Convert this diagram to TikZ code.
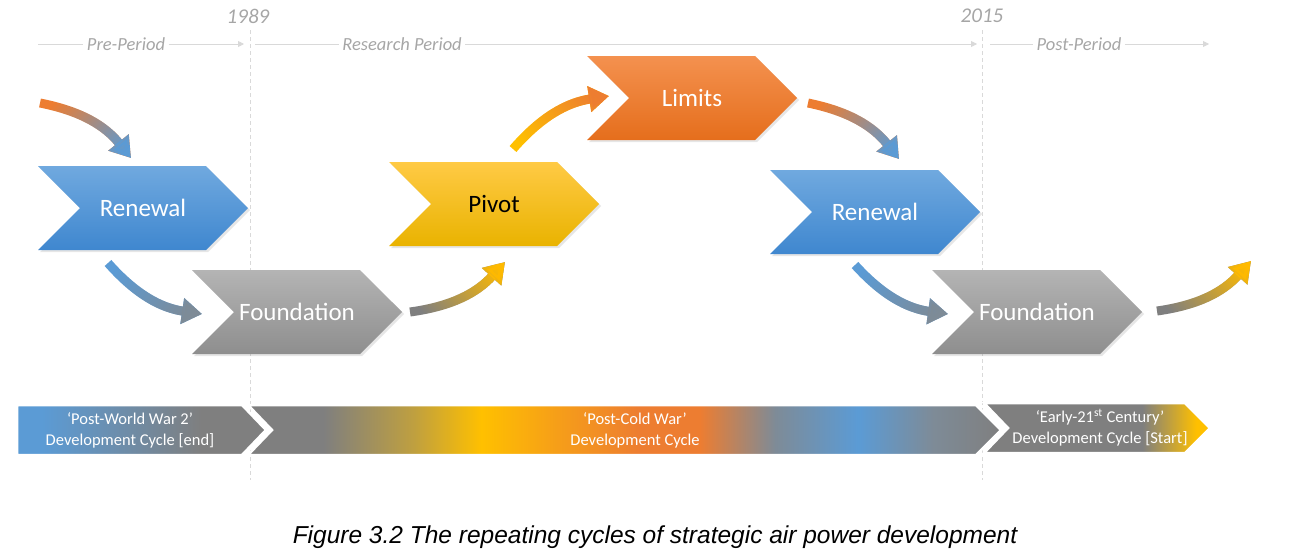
\documentclass[tikz,border=0pt]{standalone}
\usepackage{fontspec}
\setmainfont{Carlito}
\newfontfamily\captionfont{Liberation Sans}
\usetikzlibrary{shapes.symbols,arrows.meta,fadings,shadows}

\definecolor{rnblue}{HTML}{5B9BD5}
\definecolor{rnbluetop}{HTML}{70A9DF}
\definecolor{rnbluebot}{HTML}{3F87CF}
\definecolor{fdgraytop}{HTML}{B4B4B4}
\definecolor{fdgraybot}{HTML}{8E8E8E}
\definecolor{pvyeltop}{HTML}{FFCA45}
\definecolor{pvyelbot}{HTML}{E9B300}
\definecolor{lmorgtop}{HTML}{F4914F}
\definecolor{lmorgbot}{HTML}{E56E1C}
\definecolor{cygray}{HTML}{7F7F7F}
\definecolor{cyyellow}{HTML}{FFC000}
\definecolor{cyorange}{HTML}{ED7D31}
\definecolor{cyslate}{HTML}{7E8B97}
\definecolor{periodgray}{HTML}{A6A6A6}
\definecolor{periodline}{HTML}{D9D9D9}

\pgfdeclarehorizontalshading{oldcycle}{100bp}{color(0bp)=(rnblue); color(30bp)=(rnblue); color(62bp)=(cygray); color(100bp)=(cygray)}
\pgfdeclarehorizontalshading{coldcycle}{100bp}{color(0bp)=(cygray); color(30bp)=(cygray); color(36bp)=(cygray!50!cyyellow); color(40.5bp)=(cyyellow); color(45.5bp)=(cyyellow!50!cyorange); color(51bp)=(cyorange); color(55bp)=(cyorange); color(60bp)=(cyslate); color(65.5bp)=(rnblue); color(70.5bp)=(cyslate); color(75bp)=(cygray); color(100bp)=(cygray)}
\pgfdeclarehorizontalshading{newcycle}{100bp}{color(0bp)=(cygray); color(60bp)=(cygray); color(72bp)=(cyyellow); color(100bp)=(cyyellow)}

\tikzfading[name=fadeend, left color=transparent!100, right color=transparent!0]

\tikzset{
  stage/.style={signal, signal to=east, signal from=west, signal pointer angle=90,
    minimum width=210pt, minimum height=84pt, inner sep=0pt, text=white,
    font=\fontsize{25}{30}\selectfont,
    drop shadow={opacity=0.2, shadow xshift=2pt, shadow yshift=-2pt}},
  cycleband/.style={draw=white, line width=2.5pt, line join=miter},
  cycletext/.style={text=white, align=center, font=\fontsize{16.5}{21}\selectfont},
  flow/.style={line width=9pt, -{Triangle[length=20pt,width=25pt]}},
  periodtext/.style={text=periodgray, font=\fontsize{18.5}{22}\selectfont\itshape},
  yeartext/.style={text=periodgray, font=\fontsize{21}{25}\selectfont\itshape},
  periodrule/.style={periodline, line width=0.8pt},
}

\begin{document}
\begin{tikzpicture}[x=1pt,y=-1pt]
  \useasboundingbox (0,0) rectangle (1289,557);

  % period boundaries
  \coordinate (y89top) at (250,30);
  \coordinate (y89bot) at (250,480);
  \coordinate (y15top) at (982,30);
  \coordinate (y15bot) at (982,480);
  \draw[periodrule, dash pattern=on 4pt off 3pt] (y89top) -- (y89bot);
  \draw[periodrule, dash pattern=on 4pt off 3pt] (y15top) -- (y15bot);
  \node[yeartext] (y89) at (248,16) {1989};
  \node[yeartext] (y15) at (982,16) {2015};

  \node[periodtext] (pre) at (126,44) {Pre-Period};
  \node[periodtext] (research) at (402,44) {Research Period};
  \node[periodtext] (post) at (1079,44) {Post-Period};
  \coordinate (prestart) at (38,44);
  \coordinate (preend) at (244,44);
  \coordinate (resstart) at (255,44);
  \coordinate (resend) at (977,44);
  \coordinate (poststart) at (990,44);
  \coordinate (postend) at (1209,44);
  \draw[periodrule] (prestart) -- (pre.west);
  \draw[periodrule, -{Triangle[length=6pt,width=6pt]}] (pre.east) -- (preend);
  \draw[periodrule] (resstart) -- (research.west);
  \draw[periodrule, -{Triangle[length=6pt,width=6pt]}] (research.east) -- (resend);
  \draw[periodrule] (poststart) -- (post.west);
  \draw[periodrule, -{Triangle[length=6pt,width=6pt]}] (post.east) -- (postend);

  % stages
  \node[stage, top color=rnbluetop, bottom color=rnbluebot] (renewal1) at (143,208) {Renewal};
  \node[stage, top color=fdgraytop, bottom color=fdgraybot] (found1) at (297,312) {Foundation};
  \node[stage, top color=pvyeltop, bottom color=pvyelbot, text=black] (pivot) at (494,204) {Pivot};
  \node[stage, top color=lmorgtop, bottom color=lmorgbot] (limits) at (692,98) {Limits};
  \node[stage, top color=rnbluetop, bottom color=rnbluebot] (renewal2) at (875,212) {Renewal};
  \node[stage, top color=fdgraytop, bottom color=fdgraybot] (found2) at (1037,312) {Foundation};

  % flow arrows
  \coordinate (a1s) at (40,103);   \coordinate (a1e) at (131,158);
  \coordinate (a2s) at (108,263);  \coordinate (a2e) at (202,314);
  \coordinate (a3s) at (410,312);  \coordinate (a3e) at (505,262);
  \coordinate (a4s) at (513,149);  \coordinate (a4e) at (609,96);
  \coordinate (a5s) at (808,103);  \coordinate (a5e) at (899,159);
  \coordinate (a6s) at (855,265);  \coordinate (a6e) at (948,314);
  \coordinate (a7s) at (1157,311); \coordinate (a7e) at (1251,261);

  \draw[flow, cyorange] (a1s) to[bend left=20] (a1e);
  \draw[flow, rnblue, path fading=fadeend, fading angle=-32] (a1s) to[bend left=20] (a1e);
  \draw[flow, rnblue] (a2s) to[bend right=20] (a2e);
  \draw[flow, cyslate, path fading=fadeend, fading angle=-28] (a2s) to[bend right=20] (a2e);
  \draw[flow, cygray] (a3s) to[bend right=20] (a3e);
  \draw[flow, cyyellow!90!orange, path fading=fadeend, fading angle=28] (a3s) to[bend right=20] (a3e);
  \draw[flow, cyyellow] (a4s) to[bend left=20] (a4e);
  \draw[flow, cyorange, path fading=fadeend, fading angle=29] (a4s) to[bend left=20] (a4e);
  \draw[flow, cyorange] (a5s) to[bend left=20] (a5e);
  \draw[flow, rnblue, path fading=fadeend, fading angle=-31] (a5s) to[bend left=20] (a5e);
  \draw[flow, rnblue] (a6s) to[bend right=20] (a6e);
  \draw[flow, cyslate, path fading=fadeend, fading angle=-26] (a6s) to[bend right=20] (a6e);
  \draw[flow, cygray] (a7s) to[bend right=20] (a7e);
  \draw[flow, cyyellow!90!orange, path fading=fadeend, fading angle=28] (a7s) to[bend right=20] (a7e);

  % development cycles
  \shadedraw[cycleband, shading=oldcycle] (17,405) -- (242,405) -- (266,430) -- (242,455) -- (17,455) -- cycle;
  \shadedraw[cycleband, shading=coldcycle] (248,405) -- (976,405) -- (1001,430) -- (976,455)
    -- (248,455) -- (272,430) -- cycle;
  \shadedraw[cycleband, shading=newcycle] (984,403) -- (1185,403) -- (1210,428) -- (1185,453)
    -- (984,453) -- (1008,428) -- cycle;
  \node[cycletext] (oldlabel) at (130,430) {`Post-World War 2'\\Development Cycle [end]};
  \node[cycletext] (coldlabel) at (635,430) {`Post-Cold War'\\Development Cycle};
  \node[cycletext] (newlabel) at (1100,428) {`Early-21\textsuperscript{st} Century'\\Development Cycle [Start]};

  \node[font=\fontsize{24.5}{29}\selectfont\captionfont\itshape] (caption) at (655,537)
    {Figure 3.2 The repeating cycles of strategic air power development};
\end{tikzpicture}
\end{document}
